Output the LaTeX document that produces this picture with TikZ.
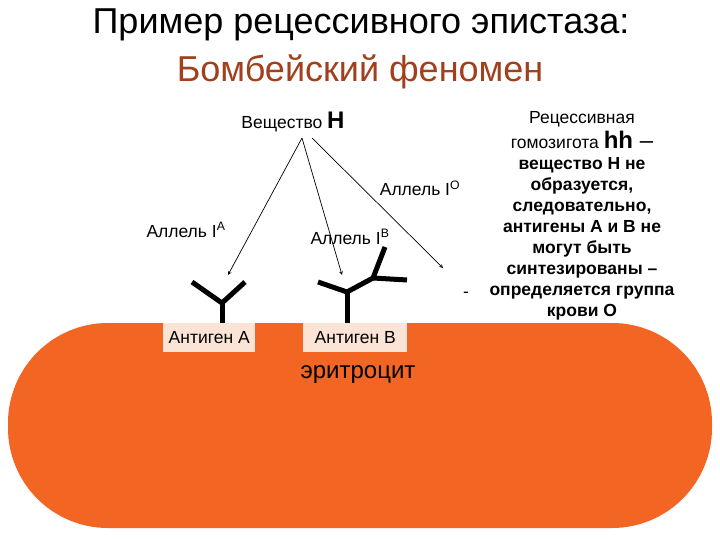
\documentclass[tikz,border=0pt]{standalone}
\usepackage{fontspec}
\setmainfont{Liberation Sans}
\definecolor{cellc}{HTML}{F26522}
\definecolor{titr}{HTML}{A0401C}
\definecolor{lbl}{HTML}{FBE3D6}
\begin{document}
\begin{tikzpicture}[x=1pt,y=-1pt,
  arr/.style={-stealth,line width=0.7pt},
  ab/.style={line width=5pt},
  lab/.style={font=\fontsize{17.5}{19}\selectfont,inner sep=1pt},
  agbox/.style={fill=lbl,font=\fontsize{17.5}{19}\selectfont,minimum height=29pt,inner sep=3pt}]
\useasboundingbox (0,0) rectangle (720,540);
\node (t1) at (361,25) {\fontsize{36}{40}\selectfont Пример рецессивного эпистаза:};
\node[text=titr] (t2) at (360,72) {\fontsize{36}{40}\selectfont Бомбейский феномен};
\fill[cellc,rounded corners=100pt] (8,323) rectangle (712,528);
\node[agbox,anchor=north west,minimum width=92pt] (aa) at (163,323) {Антиген А};
\node[agbox,anchor=north west,minimum width=104pt] (ab) at (303,323) {Антиген В};
\node (ery) at (358,375) {\fontsize{24}{26}\selectfont эритроцит};
\node[lab] (h) at (293,122) {Вещество \fontsize{24}{26}\selectfont\textbf{H}};
\coordinate (hs) at (302,138);
\coordinate (ea) at (228,275);
\coordinate (eb) at (342,275);
\coordinate (eo) at (443,268);
\draw[arr] (hs) -- (ea);
\draw[arr] (hs) -- (eb);
\draw[arr] (312,138) coordinate (hs2) -- (eo);
\node[lab] (lo) at (420,188) {Аллель I\textsuperscript{O}};
\node[lab] (la) at (186,230) {Аллель I\textsuperscript{A}};
\node[lab] (lb) at (350,237) {Аллель I\textsuperscript{B}};
\node[lab] (dash) at (466,295) {-};
% antigen A
\draw[ab] (192,282) -- (222,303) -- (245,282);
\draw[ab] (222,303) -- (222,323);
% antigen B
\draw[ab] (318,282) -- (347,292) -- (373,278) -- (385,247);
\draw[ab] (373,278) -- (407,280);
\draw[ab] (347,292) -- (347,323);
\node[align=center,font=\fontsize{17.5}{21}\selectfont] (rt) at (582,216) {Рецессивная\\[4pt]гомозигота \fontsize{24}{22}\selectfont\textbf{hh} –\\
\textbf{вещество Н не}\\\textbf{образуется,}\\\textbf{следовательно,}\\\textbf{антигены А и В не}\\\textbf{могут быть}\\\textbf{синтезированы –}\\\textbf{определяется группа}\\\textbf{крови О}};
\end{tikzpicture}
\end{document}
